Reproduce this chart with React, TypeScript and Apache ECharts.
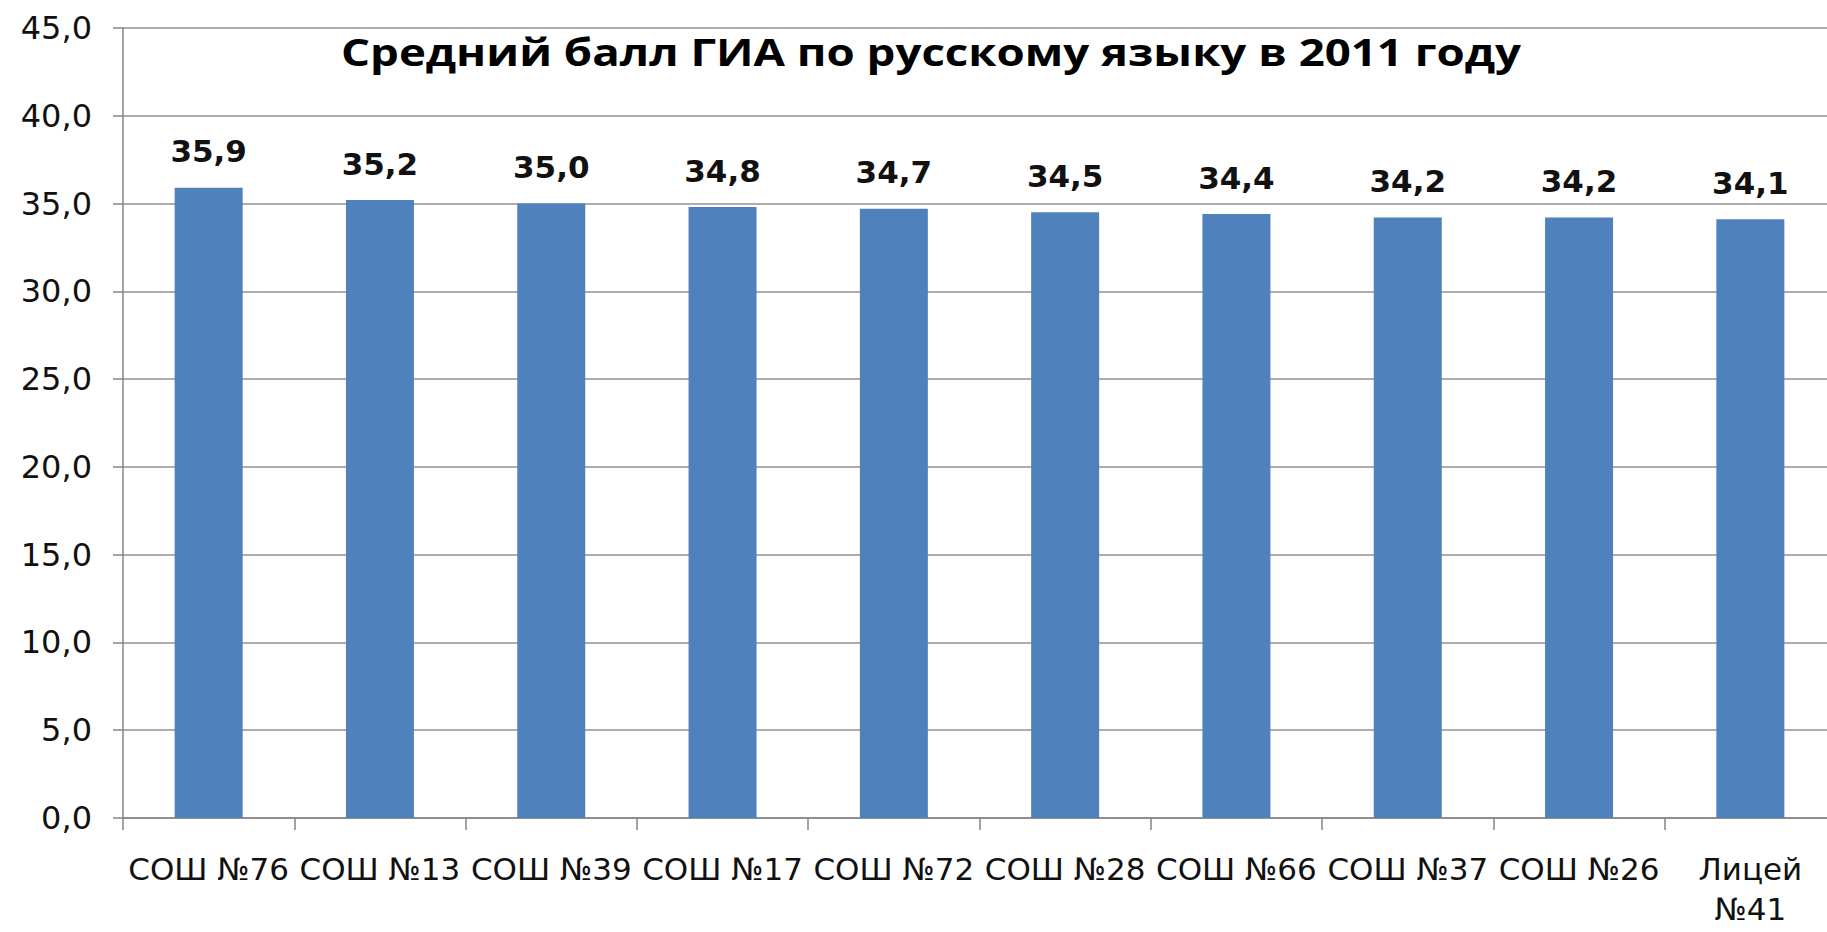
import React, { useEffect, useRef } from "react";
import * as echarts from "echarts";

const TITLE = "Средний балл ГИА по русскому языку в 2011 году";
const categories = [
  "СОШ №76",
  "СОШ №13",
  "СОШ №39",
  "СОШ №17",
  "СОШ №72",
  "СОШ №28",
  "СОШ №66",
  "СОШ №37",
  "СОШ №26",
  "Лицей №41",
];
const scores = [35.9, 35.2, 35.0, 34.8, 34.7, 34.5, 34.4, 34.2, 34.2, 34.1];
const yMin = 0;
const yMax = 45;
const yStep = 5;

const TITLE_FONT = "'Open Sans', 'Noto Sans', sans-serif";
const FONT = "'DejaVu Sans', 'Noto Sans', sans-serif";
const fmt = (v: number) => v.toFixed(1).replace(".", ",");

export default function App() {
  const ref = useRef<HTMLDivElement>(null);
  useEffect(() => {
    if (!ref.current) return;
    const chart = echarts.init(ref.current, undefined, { renderer: "svg" });
    chart.setOption({
      animation: false,
      backgroundColor: "#ffffff",
      grid: {
        left: 123,
        right: -9,
        top: 28,
        bottom: 114,
        containLabel: false,
        outerBoundsMode: "none",
      },
      graphic: [
        {
          type: "text",
          x: 931,
          y: 51,
          scaleX: 1.2,
          style: {
            text: TITLE,
            align: "center",
            verticalAlign: "middle",
            fontFamily: TITLE_FONT,
            fontWeight: "bold",
            fontSize: 38,
            fill: "#000000",
          },
          z: 10,
        },
      ],
      xAxis: {
        type: "category",
        data: categories,
        boundaryGap: true,
        axisLine: { show: true, lineStyle: { color: "#868686", width: 1.5 } },
        axisTick: {
          show: true,
          length: 12,
          alignWithLabel: false,
          lineStyle: { color: "#868686", width: 1.5 },
        },
        axisLabel: {
          interval: 0,
          margin: 31,
          color: "#111111",
          fontFamily: FONT,
          fontSize: 31,
          lineHeight: 40,
          hideOverlap: false,
          formatter: (v: string) => (v.startsWith("Лицей") ? v.replace(" ", "\n") : v),
        },
        splitLine: { show: false },
      },
      yAxis: {
        type: "value",
        min: yMin,
        max: yMax,
        interval: yStep,
        axisLine: { show: true, lineStyle: { color: "#868686", width: 1.5 } },
        axisTick: { show: true, length: 10, lineStyle: { color: "#868686", width: 1.5 } },
        axisLabel: {
          margin: 31,
          color: "#111111",
          fontFamily: FONT,
          fontSize: 32,
          formatter: (v: number) => fmt(v),
        },
        splitLine: { show: true, lineStyle: { color: "#929292", width: 1.5 } },
      },
      series: [
        {
          type: "bar",
          data: scores,
          barWidth: 68,
          itemStyle: { color: "#4f81bd" },
          label: {
            show: true,
            position: "top",
            distance: 21,
            color: "#111111",
            fontFamily: FONT,
            fontWeight: "bold",
            fontSize: 31,
            formatter: (p: any) => fmt(p.value),
          },
        },
      ],
    });
    return () => chart.dispose();
  }, []);
  return (
    <div
      ref={ref}
      style={{ position: "fixed", left: 0, top: 0, width: 1827, height: 932 }}
    />
  );
}
